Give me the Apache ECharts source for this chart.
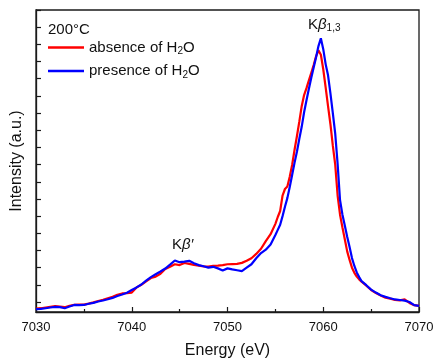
<!DOCTYPE html>
<html>
<head>
<meta charset="utf-8">
<script src="https://cdn.jsdelivr.net/npm/echarts@6/dist/echarts.min.js"></script>
<style>
  html, body { margin: 0; padding: 0; background: #fff; }
  #chart { width: 434px; height: 359px; }
</style>
</head>
<body>
<div id="chart"></div>
<script>
// Photon energy grid (eV); finer steps across the K-beta 1,3 main line
const energy = [
  7030, 7030.5, 7031, 7031.5, 7032, 7032.5, 7033, 7033.5, 7034, 7034.5,
  7035, 7035.5, 7036, 7036.5, 7037, 7037.5, 7038, 7038.5, 7039, 7039.5,
  7040, 7040.5, 7041, 7041.5, 7042, 7042.5, 7043, 7043.5, 7044, 7044.5,
  7045, 7045.5, 7046, 7046.5, 7047, 7047.5, 7048, 7048.5, 7049, 7049.5,
  7050, 7050.5, 7051, 7051.5, 7052, 7052.5, 7053, 7053.5, 7054, 7054.5,
  7055, 7055.25, 7055.5, 7055.75, 7056, 7056.25, 7056.5, 7056.75,
  7057, 7057.25, 7057.5, 7057.75, 7058, 7058.25, 7058.5, 7058.75,
  7059, 7059.25, 7059.5, 7059.75, 7060, 7060.25, 7060.5, 7060.75,
  7061, 7061.25, 7061.5, 7061.75, 7062, 7062.25, 7062.5, 7062.75,
  7063, 7063.25, 7063.5, 7063.75, 7064,
  7064.5, 7065, 7065.5, 7066, 7066.5, 7067, 7067.5, 7068, 7068.5, 7069, 7069.5, 7070
];

// Emission intensity without water (a.u.)
const absenceH2O = [
  -0.38, -0.36, -0.32, -0.28, -0.24, -0.27, -0.30, -0.22, -0.16, -0.15,
  -0.15, -0.09, -0.02, 0.06, 0.13, 0.22, 0.30, 0.42, 0.50, 0.52,
  0.55, 0.85, 1.00, 1.20, 1.40, 1.48, 1.65, 1.92, 2.05, 2.20,
  2.15, 2.27, 2.22, 2.16, 2.12, 2.08, 2.06, 2.10, 2.12, 2.15,
  2.20, 2.21, 2.22, 2.28, 2.40, 2.55, 2.80, 3.10, 3.55, 3.95,
  4.55, 4.95, 5.30, 6.20, 6.58, 6.72, 7.30, 7.98,
  8.85, 9.65, 10.50, 11.40, 12.05, 12.45, 12.90, 13.35,
  13.80, 14.30, 14.65, 14.40, 13.55, 12.50, 11.40, 10.35,
  9.10, 8.00, 6.20, 5.10, 4.35, 3.65, 2.95, 2.45,
  2.00, 1.70, 1.48, 1.32, 1.18,
  0.95, 0.70, 0.52, 0.38, 0.25, 0.20, 0.12, 0.10, 0.16, -0.05, -0.18, -0.22
];

// Emission intensity with water (a.u.)
const presenceH2O = [
  -0.41, -0.40, -0.36, -0.32, -0.28, -0.30, -0.36, -0.26, -0.17, -0.18,
  -0.17, -0.10, -0.05, 0.03, 0.09, 0.16, 0.24, 0.35, 0.44, 0.54,
  0.70, 0.85, 1.02, 1.25, 1.45, 1.62, 1.78, 1.95, 2.18, 2.42,
  2.32, 2.35, 2.40, 2.26, 2.15, 2.08, 2.00, 2.05, 1.96, 1.84,
  1.96, 1.90, 1.85, 1.80, 2.00, 2.20, 2.55, 2.85, 3.05, 3.35,
  3.90, 4.20, 4.50, 5.00, 5.55, 6.05, 6.70, 7.40,
  8.10, 8.75, 9.50, 10.20, 11.05, 11.75, 12.42, 13.05,
  13.65, 14.25, 14.90, 15.35, 14.72, 13.85, 13.20, 12.15,
  11.00, 9.80, 8.05, 5.95, 5.10, 4.45, 3.80, 3.20,
  2.56, 2.10, 1.72, 1.45, 1.22,
  0.98, 0.72, 0.55, 0.40, 0.30, 0.22, 0.15, 0.12, 0.08, 0.00, -0.18, -0.22
];

// Unlabelled intensity ticks
const intensityTicks = [0, 1, 2, 3, 4, 5, 6, 7, 8, 9, 10, 11, 12, 13, 14, 15, 16, 17];

const seriesNames = ['absence of H2O', 'presence of H2O'];
const seriesLabels = {
  'absence of H2O': '{t|absence of H}{s|2}{t|O}',
  'presence of H2O': '{t|presence of H}{s|2}{t|O}'
};
const seriesColors = ['#ff0000', '#0000ff'];

const FONT = 'Arial, "Liberation Sans", Helvetica, sans-serif';
const AXIS_COLOR = '#1a1a1a';

const chart = echarts.init(document.getElementById('chart'), null, { renderer: 'canvas' });

chart.setOption({
  animation: false,
  backgroundColor: '#fff',
  textStyle: { fontFamily: FONT },
  grid: {
    left: 36, right: 15, top: 10, bottom: 47,
    outerBoundsMode: 'none', containLabel: false,
    show: true, borderColor: AXIS_COLOR, borderWidth: 1.3, backgroundColor: 'transparent'
  },
  legend: {
    data: seriesNames.map((n, i) => ({ name: n, icon: 'rect', itemStyle: { color: seriesColors[i] } })),
    orient: 'vertical',
    left: 48, top: 40, padding: 0,
    itemWidth: 36, itemHeight: 2.6, itemGap: 7,
    formatter: name => seriesLabels[name],
    textStyle: {
      color: '#111', fontSize: 15, fontFamily: FONT, padding: [0, 0, 0, 0],
      rich: {
        t: { fontSize: 15, lineHeight: 18, fontFamily: FONT, color: '#111' },
        s: { fontSize: 10, lineHeight: 9, verticalAlign: 'bottom', fontFamily: FONT, color: '#111' }
      }
    }
  },
  xAxis: {
    type: 'value',
    min: 7030, max: 7070, interval: 10,
    name: 'Energy (eV)',
    nameLocation: 'middle', nameGap: 31,
    nameTextStyle: { fontSize: 16, color: '#111', fontFamily: FONT },
    axisLine: { show: true, onZero: false, lineStyle: { color: AXIS_COLOR, width: 1.3 } },
    axisTick: { show: true, inside: true, length: 5, lineStyle: { color: AXIS_COLOR, width: 1.2 } },
    minorTick: { show: true, splitNumber: 2, length: 3, lineStyle: { color: AXIS_COLOR, width: 1.2 } },
    axisLabel: { fontSize: 13, color: '#111', margin: 9, fontFamily: FONT, formatter: v => String(v) },
    splitLine: { show: false }
  },
  yAxis: {
    type: 'value',
    min: -0.58, max: 17,
    name: 'Intensity (a.u.)',
    nameLocation: 'middle', nameGap: 11,
    nameTextStyle: { fontSize: 16, color: '#111', fontFamily: FONT },
    axisLine: { show: true, onZero: false, lineStyle: { color: AXIS_COLOR, width: 1.3 } },
    axisTick: { show: true, inside: true, length: 5, customValues: intensityTicks,
                lineStyle: { color: AXIS_COLOR, width: 1.2 } },
    axisLabel: { show: false },
    splitLine: { show: false }
  },
  series: [
    {
      name: seriesNames[0], type: 'line', symbol: 'none', smooth: false,
      data: energy.map((e, i) => [e, absenceH2O[i]]),
      lineStyle: { color: seriesColors[0], width: 2.2 },
      itemStyle: { color: seriesColors[0] },
      z: 2
    },
    {
      name: seriesNames[1], type: 'line', symbol: 'none', smooth: false,
      data: energy.map((e, i) => [e, presenceH2O[i]]),
      lineStyle: { color: seriesColors[1], width: 2.2 },
      itemStyle: { color: seriesColors[1] },
      z: 3
    }
  ],
  graphic: [
    {
      type: 'text', left: 48, top: 22,
      style: { text: '200°C', font: '15px ' + FONT, fill: '#111' }
    },
    {
      type: 'text', left: 308, top: 17,
      style: {
        text: '{n|K}{i|β}{s|1,3}',
        fill: '#111',
        rich: {
          n: { fontSize: 15, lineHeight: 18, fontFamily: FONT, fill: '#111' },
          i: { fontSize: 15, lineHeight: 18, fontStyle: 'italic', fontFamily: FONT, fill: '#111' },
          s: { fontSize: 10, lineHeight: 8, verticalAlign: 'bottom', fontFamily: FONT, fill: '#111' }
        }
      }
    },
    {
      type: 'text', left: 172, top: 237,
      style: {
        text: '{n|K}{i|β′}',
        fill: '#111',
        rich: {
          n: { fontSize: 15, lineHeight: 18, fontFamily: FONT, fill: '#111' },
          i: { fontSize: 15, lineHeight: 18, fontStyle: 'italic', fontFamily: FONT, fill: '#111' }
        }
      }
    }
  ]
});
</script>
</body>
</html>
